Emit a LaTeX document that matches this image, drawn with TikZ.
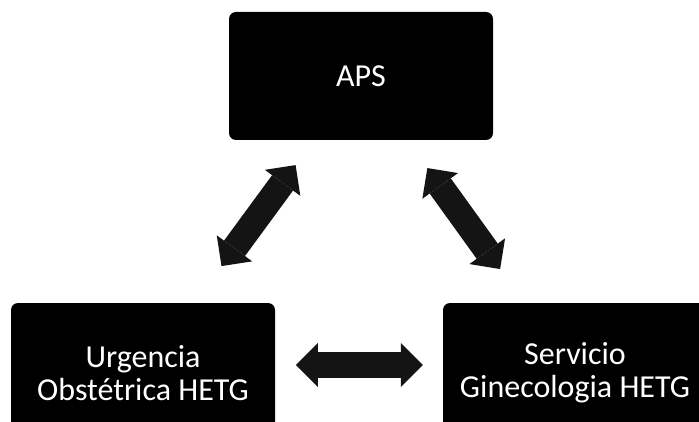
\documentclass[tikz,border=0pt]{standalone}
\usepackage{fontspec}
\setmainfont{Carlito}
\usepackage{tikz}
\usetikzlibrary{arrows.meta, positioning, calc}

\begin{document}
\begin{tikzpicture}[x=1pt, y=-1pt,
    box/.style={rectangle, fill=black, rounded corners=7pt, minimum width=264pt, minimum height=140pt, text=white, align=center, inner sep=0pt, font=\fontsize{32}{33}\selectfont},
    topbox/.style={box, minimum height=128pt},
    link/.style={line width=26pt, draw=black!92, {Triangle[length=22pt, width=44pt, line width=0pt]}-{Triangle[length=22pt, width=44pt, line width=0pt]}}]

    \useasboundingbox (0,0) rectangle (699,422);
    \clip (0,0) rectangle (699,422);

    \node (aps) [topbox] at (361,76) {APS};
    \node (urg) [box] at (143,373) {Urgencia\\Obstétrica HETG};
    \node (serv) [box] at (575,373) {Servicio\\Ginecologia HETG};

    \draw [link] ($(aps)!0.30!(urg)$) -- ($(aps)!0.64!(urg)$);
    \draw [link] ($(aps)!0.31!(serv)$) -- ($(aps)!0.65!(serv)$);
    \draw [link] ($(urg)!0.354!(serv)+(0,-8)$) -- ($(urg)!0.648!(serv)+(0,-8)$);

\end{tikzpicture}
\end{document}
